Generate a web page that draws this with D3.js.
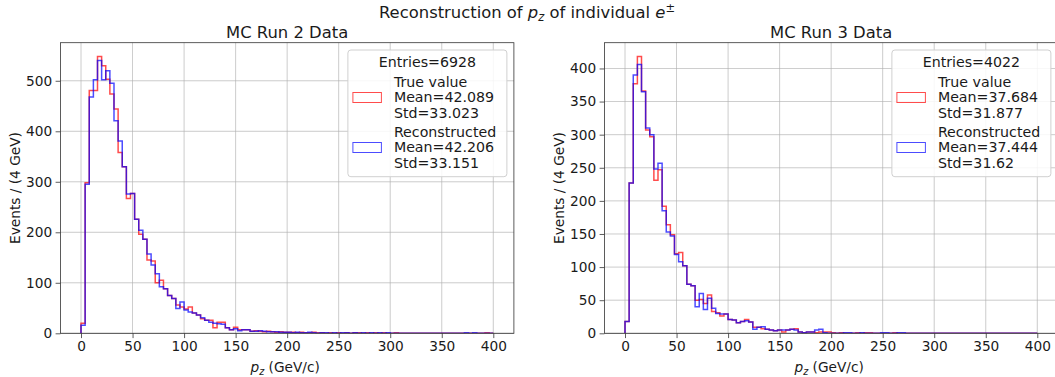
<!DOCTYPE html>
<html>
<head>
    <script src="https://d3js.org/d3.v7.min.js"></script>
    <style>
        body { margin: 0; background: #fff; }
        text { font-family: "DejaVu Sans", sans-serif; fill: #1a1a1a; }
    </style>
</head>
<body>
    <svg width="1055" height="377"></svg>
    <script>
        // bin edges: 0..400 GeV/c in 4 GeV steps
        var binWidth = 4;
        var xTicks = [0, 50, 100, 150, 200, 250, 300, 350, 400];

        // MC Run 2 counts per bin
        var run2True = [20, 298, 481, 481, 548, 530, 503, 474, 444, 358,
                        330, 267, 277, 226, 196, 186, 145, 143, 100, 105,
                        88, 75, 69, 56, 52, 48, 52, 40, 36, 29,
                        26, 26, 11, 22, 22, 11, 7, 12, 7, 7,
                        7, 4, 5, 4, 3, 4, 3, 2, 3, 2,
                        2, 2, 1, 2, 1, 1, 2, 1, 1, 0,
                        1, 0, 1, 0, 1, 0, 1, 1, 0, 1,
                        0, 1, 0, 1, 0, 0, 1, 0, 0, 0,
                        0, 0, 0, 0, 0, 0, 0, 0, 0, 0,
                        0, 0, 0, 0, 0, 0, 0, 0, 1, 0];
        var run2Reco = [16, 295, 468, 502, 540, 502, 520, 495, 421, 381,
                        330, 276, 277, 226, 204, 186, 157, 135, 118, 92,
                        88, 75, 69, 49, 62, 46, 42, 40, 36, 31,
                        26, 22, 20, 19, 18, 11, 7, 9, 5, 7,
                        7, 4, 4, 5, 4, 3, 3, 3, 2, 2,
                        2, 1, 2, 1, 1, 2, 1, 0, 1, 1,
                        0, 1, 0, 1, 1, 0, 1, 0, 1, 0,
                        1, 0, 1, 0, 1, 0, 0, 0, 0, 0,
                        0, 0, 0, 0, 0, 0, 0, 0, 0, 0,
                        0, 0, 0, 1, 0, 1, 0, 0, 0, 0];

        // MC Run 3 counts per bin
        var run3True = [18, 227, 377, 418, 366, 307, 297, 231, 247, 192,
                        164, 149, 120, 122, 102, 74, 72, 50, 51, 45,
                        58, 33, 31, 26, 29, 21, 20, 16, 18, 21,
                        17, 9, 9, 7, 6, 5, 4, 5, 2, 5,
                        6, 7, 2, 1, 2, 2, 1, 2, 2, 2,
                        1, 0, 1, 0, 0, 0, 1, 0, 1, 1,
                        0, 0, 0, 0, 0, 1, 0, 0, 0, 0,
                        0, 0, 0, 0, 0, 0, 0, 0, 0, 0,
                        0, 0, 0, 0, 0, 0, 0, 0, 0, 0,
                        0, 0, 0, 0, 0, 0, 0, 0, 0, 0];
        var run3Reco = [18, 227, 390, 406, 365, 310, 300, 248, 257, 185,
                        153, 147, 119, 108, 102, 74, 72, 40, 60, 36,
                        53, 38, 30, 29, 29, 21, 20, 16, 18, 19,
                        17, 6, 9, 10, 6, 5, 4, 5, 5, 5,
                        6, 5, 2, 1, 2, 2, 5, 6, 1, 0,
                        0, 0, 0, 1, 1, 0, 0, 1, 0, 0,
                        0, 0, 1, 1, 0, 0, 1, 1, 0, 0,
                        0, 0, 0, 0, 0, 0, 0, 0, 0, 0,
                        0, 0, 0, 0, 0, 0, 0, 0, 0, 0,
                        0, 0, 0, 0, 0, 0, 0, 0, 0, 0];

        var run2Ticks = [0, 100, 200, 300, 400, 500];
        var run3Ticks = [0, 50, 100, 150, 200, 250, 300, 350, 400];

        var run2Legend = { entries: "Entries=6928",
                           trueText: ["True value", "Mean=42.089", "Std=33.023"],
                           recoText: ["Reconstructed", "Mean=42.206", "Std=33.151"] };
        var run3Legend = { entries: "Entries=4022",
                           trueText: ["True value", "Mean=37.684", "Std=31.877"],
                           recoText: ["Reconstructed", "Mean=37.444", "Std=31.62"] };

        var svg = d3.select("svg");
        var plotTop = 42.7, plotBottom = 333.3, plotW = 453.5;
        var legendFont = "14.2px";

        // figure title
        var t = svg.append("text")
            .attr("x", 527).attr("y", 18)
            .attr("text-anchor", "middle")
            .style("font-size", "16.4px");
        t.append("tspan").text("Reconstruction of ");
        t.append("tspan").style("font-style", "italic").text("p");
        t.append("tspan").attr("dy", 3).style("font-size", "11.5px").style("font-style", "italic").text("z");
        t.append("tspan").attr("dy", -3).text(" of individual ");
        t.append("tspan").style("font-style", "italic").text("e");
        t.append("tspan").attr("dy", -6).style("font-size", "11.5px").text("\u00b1");

        function drawPanel(id, left, title, trueCounts, recoCounts, yTicks, legend) {
            var g = svg.append("g");
            var x = d3.scaleLinear().domain([-20, 420]).range([left, left + plotW]);
            var yMax = d3.max(trueCounts.concat(recoCounts)) * 1.05;
            var y = d3.scaleLinear().domain([0, yMax]).range([plotBottom, plotTop]);

            g.append("clipPath").attr("id", "clip" + id).append("rect")
                .attr("x", left).attr("y", plotTop).attr("width", plotW).attr("height", plotBottom - plotTop);

            // grid
            g.selectAll(".gx").data(xTicks).enter().append("line")
                .attr("x1", function(d) { return x(d); }).attr("x2", function(d) { return x(d); })
                .attr("y1", plotTop).attr("y2", plotBottom)
                .attr("stroke", "#b0b0b0").attr("stroke-width", 0.8).attr("opacity", 0.8);
            g.selectAll(".gy").data(yTicks).enter().append("line")
                .attr("x1", left).attr("x2", left + plotW)
                .attr("y1", function(d) { return y(d); }).attr("y2", function(d) { return y(d); })
                .attr("stroke", "#b0b0b0").attr("stroke-width", 0.8).attr("opacity", 0.8);

            // histograms as step outlines
            var line = d3.line()
                .x(function(d) { return x(d[0]); })
                .y(function(d) { return y(d[1]); })
                .curve(d3.curveStepAfter);
            function steps(counts) {
                var pts = [[0, 0]];
                counts.forEach(function(c, i) { pts.push([i * binWidth, c]); });
                var end = counts.length * binWidth;
                pts.push([end, counts[counts.length - 1]]);
                pts.push([end, 0]);
                return pts;
            }
            var hg = g.append("g").attr("clip-path", "url(#clip" + id + ")");
            hg.append("path").attr("d", line(steps(trueCounts)))
                .attr("fill", "none").attr("stroke", "red").attr("stroke-opacity", 0.7).attr("stroke-width", 1.5);
            hg.append("path").attr("d", line(steps(recoCounts)))
                .attr("fill", "none").attr("stroke", "blue").attr("stroke-opacity", 0.7).attr("stroke-width", 1.5);

            // axes
            var xAxis = d3.axisBottom(x).tickValues(xTicks).tickSize(4.8).tickPadding(3.5);
            var yAxis = d3.axisLeft(y).tickValues(yTicks).tickSize(4.8).tickPadding(3.5);
            var gx = g.append("g").attr("transform", "translate(0," + plotBottom + ")").call(xAxis);
            var gy = g.append("g").attr("transform", "translate(" + left + ",0)").call(yAxis);
            [gx, gy].forEach(function(a) {
                a.select(".domain").remove();
                a.selectAll("line").attr("stroke", "#333").attr("stroke-width", 0.8);
                a.selectAll("text").style("font-size", "13.7px").style("font-family", "DejaVu Sans").attr("fill", "#1a1a1a");
            });
            g.append("rect").attr("x", left).attr("y", plotTop).attr("width", plotW).attr("height", plotBottom - plotTop)
                .attr("fill", "none").attr("stroke", "#333").attr("stroke-width", 0.8);

            // titles and labels
            g.append("text").attr("x", left + plotW / 2).attr("y", 37.5)
                .attr("text-anchor", "middle").style("font-size", "16.4px").text(title);
            var xl = g.append("text").attr("x", left + plotW / 2 - 2).attr("y", 372)
                .attr("text-anchor", "middle").style("font-size", "13.7px");
            xl.append("tspan").style("font-style", "italic").text("p");
            xl.append("tspan").attr("dy", 3).style("font-size", "9.6px").style("font-style", "italic").text("z");
            xl.append("tspan").attr("dy", -3).text(" (GeV/c)");
            g.append("text")
                .attr("transform", "translate(" + (left - 40.5) + "," + ((plotTop + plotBottom) / 2) + ") rotate(-90)")
                .attr("text-anchor", "middle").style("font-size", "13.7px").text("Events / (4 GeV)");

            // legend
            var lx = left + plotW - 166, ly = 50;
            var lg = g.append("g").attr("transform", "translate(" + lx + "," + ly + ")");
            lg.append("rect").attr("width", 159).attr("height", 126.7).attr("rx", 3)
                .attr("fill", "#fff").attr("fill-opacity", 0.85).attr("stroke", "#d0d0d0");
            lg.append("text").attr("x", 79.5).attr("y", 16.5).attr("text-anchor", "middle")
                .style("font-size", legendFont).text(legend.entries);
            var items = [{ c: "red", lines: legend.trueText, y0: 36.5 },
                         { c: "blue", lines: legend.recoText, y0: 86.5 }];
            items.forEach(function(it) {
                lg.append("rect").attr("x", 5).attr("y", it.y0 + 6).attr("width", 28.5).attr("height", 10)
                    .attr("fill", "none").attr("stroke", it.c).attr("stroke-opacity", 0.7);
                it.lines.forEach(function(s, k) {
                    lg.append("text").attr("x", 46).attr("y", it.y0 + k * 15.8)
                        .style("font-size", legendFont).text(s);
                });
            });
        }

        drawPanel(2, 60.4, "MC Run 2 Data", run2True, run2Reco, run2Ticks, run2Legend);
        drawPanel(3, 604.4, "MC Run 3 Data", run3True, run3Reco, run3Ticks, run3Legend);
    </script>
</body>
</html>
